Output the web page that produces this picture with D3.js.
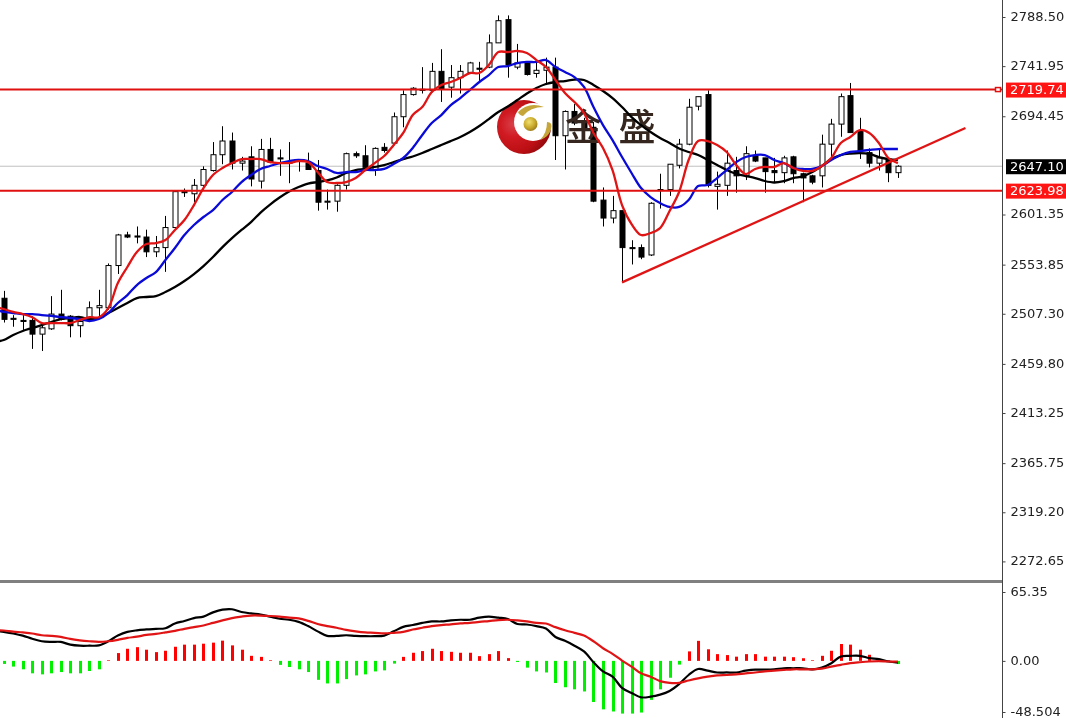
<!DOCTYPE html>
<html><head><meta charset="utf-8">
<style>html,body{margin:0;padding:0;background:#fff;overflow:hidden}svg{display:block;filter:blur(0.35px)}</style>
<script src="https://cdn.jsdelivr.net/npm/d3@7/dist/d3.min.js"></script>
</head><body><svg id="c" width="1066" height="718"></svg>
<script>
const open=[2522,2503,2501,2501,2488,2493,2507,2505,2496,2503,
2513,2513,2553,2582,2581,2580,2566,2570,2589,2624,
2621,2629,2643,2658,2671,2650,2656,2633,2663,2655,
2651,2653,2650,2643,2613,2614,2629,2659,2657,2644,
2665,2669,2694,2715,2720,2719,2737,2722,2731,2736,
2740,2741,2764,2786,2741,2745,2735,2738,2741,2676,
2699,2688,2684,2615,2598,2605,2570,2570,2563,2625,
2625,2648,2668,2704,2715,2628,2629,2643,2638,2657,
2655,2643,2641,2656,2640,2638,2638,2668,2687,2714,
2680,2660,2650,2654,2641];
const high=[2529,2506,2506,2505,2498,2524,2530,2506,2504,2519,
2530,2555,2583,2585,2590,2587,2581,2600,2624,2626,
2635,2647,2670,2685,2679,2656,2666,2673,2674,2663,
2670,2653,2660,2653,2625,2630,2660,2661,2667,2665,
2669,2698,2719,2722,2741,2745,2758,2743,2743,2746,
2746,2772,2790,2790,2763,2745,2746,2750,2750,2700,
2706,2693,2689,2627,2619,2605,2577,2573,2613,2640,
2649,2673,2711,2713,2719,2642,2662,2656,2666,2662,
2655,2655,2657,2657,2641,2639,2677,2692,2716,2726,
2693,2664,2664,2655,2648];
const low=[2499,2495,2492,2474,2472,2492,2501,2485,2485,2501,
2504,2511,2545,2579,2574,2561,2561,2547,2588,2618,
2613,2625,2642,2649,2644,2643,2628,2626,2650,2638,
2631,2642,2644,2605,2606,2604,2625,2655,2646,2638,
2660,2667,2684,2714,2716,2717,2708,2712,2716,2736,
2728,2740,2764,2731,2739,2733,2731,2724,2653,2644,
2686,2679,2613,2590,2593,2537,2554,2559,2562,2607,
2619,2645,2667,2700,2627,2606,2619,2622,2634,2651,
2622,2632,2631,2631,2613,2630,2627,2656,2675,2679,
2654,2646,2643,2632,2636];
const close=[2502,2502,2500,2488,2494,2507,2502,2496,2500,2513,
2515,2553,2582,2580,2580,2566,2570,2589,2623,2622,
2629,2644,2658,2671,2650,2652,2635,2663,2651,2654,
2650,2652,2644,2613,2614,2629,2659,2657,2646,2664,
2662,2694,2715,2721,2719,2737,2720,2731,2737,2745,
2739,2764,2785,2743,2745,2734,2738,2741,2676,2699,
2688,2681,2614,2598,2605,2570,2569,2561,2612,2624,
2649,2668,2703,2713,2629,2630,2650,2638,2659,2652,
2642,2641,2655,2640,2636,2632,2668,2687,2713,2679,
2662,2650,2655,2641,2647.1];
const maFast=[2511.8,2509,2507,2504,2498.5,2498.5,2498.5,2498.5,2501.4,2504,
2504,2512.7,2536.4,2551.6,2565.8,2573.4,2574.3,2577.2,2586.7,2596.1,
2610.3,2626.4,2638.8,2645.4,2650.1,2653.9,2653.9,2653.9,2651,2650.1,
2650.1,2652,2651,2641.6,2632.1,2631.2,2632.1,2635.9,2643.5,2650.1,
2656.8,2667.2,2678.6,2695.6,2703.2,2717.4,2724.1,2726.9,2730.7,2735.4,
2735.4,2743,2755.3,2755.3,2756.3,2754.4,2747.7,2741.1,2728.8,2716.5,
2707.9,2697.5,2678.6,2664.4,2643.5,2610.3,2592.3,2581.9,2583.8,2588.5,
2604.7,2622.7,2653,2671,2671,2667.2,2660.6,2648.2,2639.7,2644.5,
2646.4,2646.4,2650.1,2645.4,2642.6,2642.6,2647.3,2654.9,2669.1,2674.8,
2681.4,2678.6,2669.1,2654.9,2650.1];
const maMid=[2509,2508,2507,2507,2506.1,2505.2,2504.2,2503.3,2502.3,2500.4,
2502.3,2508,2517.5,2525,2534.5,2541.2,2546.8,2558.2,2569.6,2581.9,
2591.4,2599,2605.6,2615.1,2622.7,2632.1,2638.8,2644.5,2647.3,2650.1,
2652,2653,2652,2647.3,2644.5,2640.7,2641.6,2641.6,2643.5,2643.5,
2644.5,2649.2,2654.9,2664.4,2676.7,2688,2695.6,2705.1,2711.7,2719.3,
2726.9,2733.5,2741.1,2742,2744.9,2745.9,2745.9,2747.7,2741.1,2736.4,
2731.6,2722.2,2703.2,2686.1,2671.9,2655.8,2640.7,2626.4,2617.9,2612.2,
2608.5,2608.5,2615.1,2628.3,2629.3,2635.9,2643.5,2651,2655.8,2657.7,
2657.7,2653,2650.1,2645.4,2644.5,2644.5,2647.3,2653,2657.7,2660.6,
2661.5,2662.5,2663.4,2663.4,2663.4];
const maSlow=[2482.4,2487.2,2491,2493.8,2496.6,2499.5,2502.3,2503.3,2504.2,2502.3,
2503.3,2508,2512.7,2517.5,2522.2,2523.2,2524.1,2527.9,2532.6,2538.3,
2544.9,2552.5,2561.1,2570.5,2579,2586.7,2594.2,2603.2,2610.8,2617.4,
2623.1,2627.4,2630.7,2632.1,2633.6,2636.4,2640.7,2643.5,2644.5,2646.4,
2648.2,2651,2653.9,2656.3,2659.6,2663.4,2667.2,2671,2674.8,2679.5,
2685.2,2691.8,2698.5,2703.7,2709.8,2716,2721.2,2725,2726.9,2727.8,
2729.2,2728.8,2724.1,2718.4,2711.7,2703.2,2693.7,2686.1,2679.5,2673.8,
2669.1,2663.9,2660.6,2657.7,2653,2648.2,2643.5,2639.8,2637.8,2635.9,
2633.1,2631.7,2633,2635.9,2637.4,2641.6,2647.3,2653.9,2657.7,2659.1,
2659.6,2658.7,2655.8,2653.9,2653];
const macdHist=[-2.9,-5.4,-8,-11.8,-12.8,-11.8,-10.6,-11.8,-11.8,-9.6,
-8,0.6,7.4,11.5,13,10.6,8.3,9.6,13.4,15.4,
15.4,16.3,17.3,19.2,14.7,10.6,4.8,3.8,0.6,-3.8,
-5.8,-8,-10.6,-18,-21.4,-21.4,-17.3,-13.8,-12.8,-10,
-9,-2.6,3.8,7.7,9.3,11.5,9.3,8.6,7.7,7.7,
4.5,6.4,9.3,2.6,-1,-6.4,-10,-11,-21,-25,
-27,-29,-39,-46,-48,-50,-50,-49,-37,-27,
-16,-3.5,9,19,11,6.4,5.5,4,6.4,6.4,
4,4,4,3.5,2.5,0.6,4.8,9.6,16,15.4,
10.6,5.8,1.9,0.6,-3];
const macdLine=[27.5,26,24,21,18.6,18,18,15.4,14.4,14.4,
14.7,18.6,24,27.5,29,29.8,30.4,31,35.5,37.8,
40.6,42,46,48.6,49,46.4,45,44,42,40,
39,37,33,28,23.7,23.7,24.3,23.7,23.4,23.4,
24,28,32.3,34,36,37.4,37.4,38.4,39,39,
41,42,41,39.7,35,34.5,33,30.7,22.7,19,
14.4,9,-1.3,-10,-15,-25.6,-30.4,-34.6,-34,-32,
-28.5,-22,-13.4,-7.7,-9.3,-11,-11,-11,-9.3,-8.3,
-8.3,-8,-7,-7,-7,-8,-6.4,-2.2,4.2,4.8,
4.8,2.6,1.6,-0.6,-1.6];
const macdSignal=[28.8,27.8,27,26,24.3,23.7,22.7,20.8,19.5,18.6,
18,18.6,20,21.8,23,24.6,25.6,27,28.5,30.4,
32,33.6,36,38.4,40.6,42,43,43,42.6,42,
41,40.3,38,35,33,31.4,29.4,28,27,26.6,
26,26.6,27.5,29.8,31.4,33,34,34.6,35.5,36,
37,37.8,38.7,39,38.4,37.4,36,35.5,32,29,
26.6,24,18.6,12,6.7,0.3,-5.4,-11.8,-15,-19.2,
-20.8,-20.8,-18.6,-16.6,-15,-13.8,-13.4,-12.8,-11.8,-11,
-10,-9.3,-8.6,-8,-8,-8,-7.4,-5.4,-3.8,-2.2,
-1.3,-0.6,-0.3,-0.6,-0.6];
// values just before the first whole bar, where the lines enter at the left edge
const leadIndex=-0.4;
const leadFast=2512.7, leadMid=2510, leadSlow=2481.5, leadMacd=28, leadSignal=29;
const priceTicks=[2788.50,2741.95,2694.45,2601.35,2553.85,2507.30,2459.80,2413.25,2365.75,2319.20,2272.65];
const macdTicks=[65.35,0,-48.504];
const macdTickLabels=["65.35","0.00","-48.504"];
const levels=[2719.74,2623.98];
const lastPrice=2647.10;
const trendIndex=[65,101.1];
const trendPrice=[2537,2683.3];
const brandChars=["金","盛"];

const svg=d3.select("#c");
const plotRight=1002;
const x=d3.scaleLinear().domain([0,open.length-1]).range([3.7,897.9]);
const y=d3.scaleLinear().domain([2788.5,2272.65]).range([17,561.4]);
const ym=d3.scaleLinear().domain([65.35,-48.504]).range([592,712]);
const idx=d3.range(open.length);

const defs=svg.append("defs");
const g1=defs.append("radialGradient").attr("id","ball").attr("cx","0.3").attr("cy","0.45").attr("r","0.8");
[[0,"#d8404a"],[0.3,"#d01a22"],[0.65,"#bb0f14"],[1,"#7a0508"]].forEach(s=>g1.append("stop").attr("offset",s[0]).attr("stop-color",s[1]));
const g2=defs.append("radialGradient").attr("id","gold").attr("cx","0.4").attr("cy","0.35").attr("r","0.7");
[[0,"#f0e070"],[0.6,"#c8a82a"],[1,"#96781a"]].forEach(s=>g2.append("stop").attr("offset",s[0]).attr("stop-color",s[1]));
defs.append("clipPath").attr("id","pm").append("rect").attr("width",plotRight).attr("height",579);

// watermark logo (behind marks)
const logo=svg.append("g");
logo.append("circle").attr("cx",524).attr("cy",127).attr("r",27).attr("fill","url(#ball)");
logo.append("circle").attr("cx",533).attr("cy",122).attr("r",19).attr("fill","#fff");
logo.append("circle").attr("cx",530.5).attr("cy",124).attr("r",7).attr("fill","url(#gold)");
logo.append("path").attr("d","M518 112 Q529 101 544 107 Q530 107 523 116 Q519 115 518 112Z").attr("fill","#c6a63a");
logo.append("path").attr("d","M540 140 Q547 133 547 122 Q553 122 551 129 Q549 137 540 140Z").attr("fill","#c6a63a");

const main=svg.append("g").attr("clip-path","url(#pm)");
main.append("line").attr("x1",0).attr("x2",plotRight).attr("y1",y(lastPrice)).attr("y2",y(lastPrice)).attr("stroke","#c0c0c0");
// candles
const c=main.append("g");
c.selectAll("line").data(idx).join("line")
 .attr("x1",i=>Math.round(x(i))+.5).attr("x2",i=>Math.round(x(i))+.5)
 .attr("y1",i=>y(high[i])).attr("y2",i=>y(low[i])).attr("stroke","#000");
c.selectAll("rect").data(idx).join("rect")
 .attr("x",i=>Math.round(x(i))-2).attr("width",5)
 .attr("y",i=>y(Math.max(open[i],close[i]))).attr("height",i=>Math.max(1,Math.abs(y(open[i])-y(close[i]))))
 .attr("fill",i=>close[i]>=open[i]?"#fff":"#000").attr("stroke","#000");
// watermark text, over the candles and under the lines
main.append("g").selectAll("text").data(brandChars).join("text")
 .attr("x",(d,i)=>583.5+i*53.5).attr("y",141).attr("text-anchor","middle")
 .attr("font-family","'Noto Sans CJK SC'").attr("font-weight",500).attr("font-size",37).attr("fill","#35271f").text(d=>d);
// moving averages
const smooth=(yf,lead,d)=>d3.line().curve(d3.curveCatmullRom.alpha(0.5)).x(p=>x(p[0])).y(p=>yf(p[1]))([[leadIndex,lead]].concat(d.map((v,i)=>[i,v])));
[[maSlow,leadSlow,"#000"],[maMid,leadMid,"#0a0ad8"],[maFast,leadFast,"#e01414"]].forEach(([d,l,col])=>
 main.append("path").attr("d",smooth(y,l,d)).attr("fill","none").attr("stroke",col).attr("stroke-width",2.3).attr("stroke-linejoin","round"));
// levels and trend
main.selectAll(".lv").data(levels).join("line").attr("class","lv")
 .attr("x1",0).attr("x2",plotRight).attr("y1",d=>y(d)).attr("y2",d=>y(d)).attr("stroke","#e01010").attr("stroke-width",2);
main.append("path").attr("d",d3.line().x(d=>x(d[0])).y(d=>y(d[1]))(d3.zip(trendIndex,trendPrice)))
 .attr("stroke","#e01414").attr("stroke-width",2.3).attr("fill","none");
main.append("rect").attr("x",995.5).attr("y",y(levels[0])-2).attr("width",5).attr("height",4).attr("fill","#fff").attr("stroke","#e01010").attr("stroke-width",1.5);

// MACD panel
const m=svg.append("g");
m.selectAll("rect").data(idx).join("rect")
 .attr("x",i=>Math.round(x(i))-1).attr("width",3)
 .attr("y",i=>Math.min(ym(0),ym(macdHist[i]))).attr("height",i=>Math.abs(ym(macdHist[i])-ym(0)))
 .attr("fill",i=>macdHist[i]>=0?"#ff0000":"#00f000");
m.append("path").attr("d",smooth(ym,leadMacd,macdLine)).attr("fill","none").attr("stroke","#000").attr("stroke-width",2.2);
m.append("path").attr("d",smooth(ym,leadSignal,macdSignal)).attr("fill","none").attr("stroke","#e01414").attr("stroke-width",2.2);

// separators and axes
svg.append("rect").attr("x",0).attr("y",580).attr("width",plotRight).attr("height",3).attr("fill","#808080");
svg.append("line").attr("x1",plotRight+.5).attr("x2",plotRight+.5).attr("y1",0).attr("y2",718).attr("stroke","#444");
const font="DejaVu Sans";
const ax=svg.append("g").attr("transform",`translate(${plotRight+.5},0)`)
 .call(d3.axisRight(y).tickValues(priceTicks).tickFormat(d3.format(".2f")).tickSize(3).tickPadding(5));
const ax2=svg.append("g").attr("transform",`translate(${plotRight+.5},0)`)
 .call(d3.axisRight(ym).tickValues(macdTicks).tickFormat((d,i)=>macdTickLabels[i]).tickSize(3).tickPadding(5));
[ax,ax2].forEach(a=>{a.select(".domain").remove();a.selectAll("line").attr("stroke","#444");
 a.selectAll("text").attr("font-family",font).attr("font-size",13).attr("fill","#222").attr("dy","0.26em");});
// price tags
const tags=[[levels[0],"#ff1414"],[levels[1],"#ff1414"],[lastPrice,"#000"]];
const tg=svg.append("g").selectAll("g").data(tags).join("g").attr("transform",d=>`translate(${plotRight+4},${y(d[0])})`);
tg.append("rect").attr("x",0).attr("y",-7).attr("width",60).attr("height",15).attr("fill",d=>d[1]);
tg.append("text").attr("x",4).attr("dy","0.36em").attr("font-family",font).attr("font-size",13).attr("fill","#fff").text(d=>d3.format(".2f")(d[0]));
</script></body></html>
